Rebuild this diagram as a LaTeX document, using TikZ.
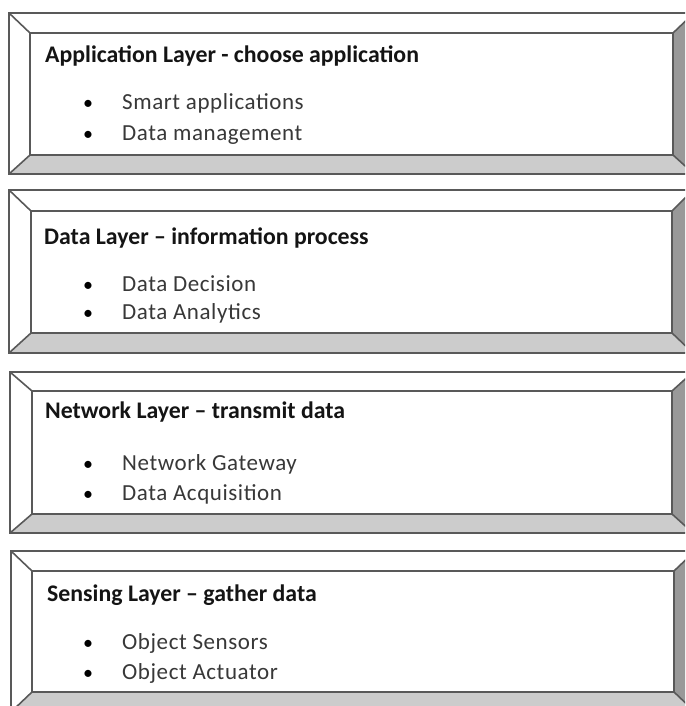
\documentclass[tikz,border=0pt]{standalone}
\usepackage{fontspec}
\setmainfont{Carlito}
\tikzset{
  edge/.style={draw=black!65, line width=1.6pt, line join=miter},
  lowbevel/.style={fill=black!20},
  sidebevel/.style={fill=black!40},
  heading/.style={anchor=base west, inner sep=0pt, font=\fontsize{23.8}{28}\selectfont\bfseries, text=black!92},
  item/.style={anchor=base west, inner sep=0pt, font=\fontsize{23}{27}\selectfont\addfontfeature{LetterSpace=2.5}, text=black!78},
  dot/.style={anchor=base, inner sep=0pt, font=\fontsize{20}{24}\selectfont, text=black},
}
% bevelled frame: #1 outer left, #2 outer top, #3 outer right, #4 outer bottom,
% #5 inner left, #6 inner top, #7 inner right, #8 inner bottom
\newcommand{\bevelbox}[8]{%
  \fill[lowbevel] (#1,#4) -- (#3,#4) -- (#7,#8) -- (#5,#8) -- cycle;
  \fill[sidebevel] (#3,#2) -- (#3,#4) -- (#7,#8) -- (#7,#6) -- cycle;
  \draw[edge] (#1,#2) rectangle (#3,#4);
  \draw[edge] (#5,#6) rectangle (#7,#8);
  \draw[edge] (#1,#2) -- (#5,#6) (#3,#2) -- (#7,#6) (#1,#4) -- (#5,#8) (#3,#4) -- (#7,#8);
}
\begin{document}
\begin{tikzpicture}[x=1pt,y=-1pt]
\useasboundingbox (0,0) rectangle (685,706);
\fill[white] (0,0) rectangle (685,706);
\clip (0,0) rectangle (685,706);

% application layer
\bevelbox{9}{13}{694}{174}{30}{33}{673}{155}
\node[heading] (apptitle) at (45,63) {Application Layer - choose application};
\node[dot] (appdot1) at (88,110) {•};
\node[item] (appitem1) at (122,110) {Smart applications};
\node[dot] (appdot2) at (88,140) {•};
\node[item] (appitem2) at (122,140) {Data management};

% data layer
\bevelbox{9}{190}{693}{353}{31}{211}{672}{333}
\node[heading] (datatitle) at (44,244) {Data Layer -- information process};
\node[dot] (datadot1) at (88,291) {•};
\node[item] (dataitem1) at (122,291) {Data Decision};
\node[dot] (datadot2) at (88,319) {•};
\node[item] (dataitem2) at (122,319) {Data Analytics};

% network layer
\bevelbox{10}{372}{693}{533}{32}{391}{672}{514}
\node[heading] (nettitle) at (45,418) {Network Layer -- transmit data};
\node[dot] (netdot1) at (88,470) {•};
\node[item] (netitem1) at (122,470) {Network Gateway};
\node[dot] (netdot2) at (88,500) {•};
\node[item] (netitem2) at (122,500) {Data Acquisition};

% sensing layer
\bevelbox{11}{551}{695}{712}{32}{571}{674}{692}
\node[heading] (senstitle) at (47,601) {Sensing Layer -- gather data};
\node[dot] (sensdot1) at (88,649) {•};
\node[item] (sensitem1) at (122,649) {Object Sensors};
\node[dot] (sensdot2) at (88,679) {•};
\node[item] (sensitem2) at (122,679) {Object Actuator};
\end{tikzpicture}
\end{document}
